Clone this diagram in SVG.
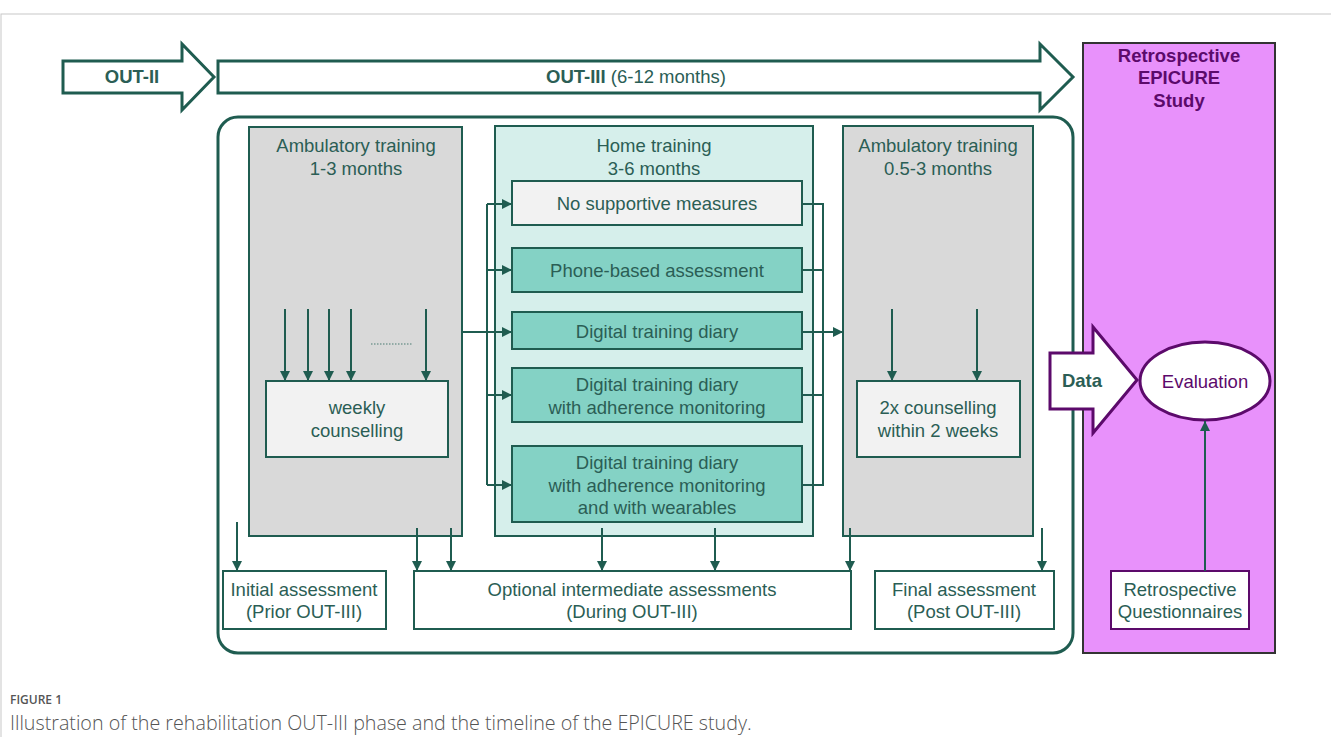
<svg xmlns="http://www.w3.org/2000/svg" width="1331" height="737" viewBox="0 0 1331 737">
<defs>
<marker id="ah" viewBox="0 0 10 10" refX="10" refY="5" markerWidth="10" markerHeight="10" markerUnits="userSpaceOnUse" orient="auto">
<path d="M0,0 L10,5 L0,10 z" fill="#1f5c50"/>
</marker>
<style>
.t{font-family:"Liberation Sans",Arial,sans-serif;font-size:18.5px;fill:#2b5e55;text-anchor:middle}
.b{font-weight:bold}
.p{fill:#5c0a6b}
.ln{stroke:#1f5c50;stroke-width:2;fill:none}
.ar{stroke:#1f5c50;stroke-width:2;fill:none;marker-end:url(#ah)}
.box{stroke:#1f5c50;stroke-width:2}
.cap{font-family:"Open Sans","Liberation Sans",sans-serif;fill:#555}
</style>
</defs>
<rect x="0" y="0" width="1331" height="737" fill="#fff"/>
<rect x="1" y="14" width="1400" height="800" fill="none" stroke="#c8c8c8" stroke-width="1"/>

<g id="out2">
<path d="M63,61 L182,61 L182,44 L214,77 L182,110 L182,93 L63,93 Z" fill="#fff" stroke="#1f5c50" stroke-width="3"/>
<text class="t b" x="132" y="83">OUT-II</text>
</g>
<g id="out3">
<path d="M218,61 L1040,61 L1040,44 L1073,77 L1040,110 L1040,93 L218,93 Z" fill="#fff" stroke="#1f5c50" stroke-width="3"/>
<text class="t" x="636" y="83"><tspan class="b">OUT-III</tspan> (6-12 months)</text>
</g>

<g id="epicure">
<rect x="1083" y="43" width="192" height="610" fill="#e891fb" stroke="#333" stroke-width="2"/>
<text class="t b p" x="1179" y="62">Retrospective</text>
<text class="t b p" x="1179" y="84">EPICURE</text>
<text class="t b p" x="1179" y="107">Study</text>
</g>

<g id="frame">
<rect x="218" y="117" width="855" height="536" rx="20" fill="none" stroke="#1f5c50" stroke-width="3"/>
</g>

<g id="amb1">
<rect x="249" y="127" width="213" height="409" fill="#d9d9d9" class="box"/>
<text class="t" x="356" y="152">Ambulatory training</text>
<text class="t" x="356" y="175">1-3 months</text>
</g>
<g id="weekly">
<rect x="266" y="381" width="182" height="76" fill="#f2f2f2" class="box"/>
<text class="t" x="357" y="414">weekly</text>
<text class="t" x="357" y="437">counselling</text>
</g>

<g id="home">
<rect x="495" y="126" width="318" height="410" fill="#d6efeb" class="box"/>
<text class="t" x="654" y="152">Home training</text>
<text class="t" x="654" y="175">3-6 months</text>
</g>
<g id="nosupport">
<rect x="512" y="181" width="290" height="44" fill="#f2f2f2" class="box"/>
<text class="t" x="657" y="210">No supportive measures</text>
</g>
<g id="phone">
<rect x="512" y="248" width="290" height="44" fill="#84d2c5" class="box"/>
<text class="t" x="657" y="277">Phone-based assessment</text>
</g>
<g id="diary">
<rect x="512" y="312" width="290" height="37" fill="#84d2c5" class="box"/>
<text class="t" x="657" y="338">Digital training diary</text>
</g>
<g id="diary2">
<rect x="512" y="368" width="290" height="54" fill="#84d2c5" class="box"/>
<text class="t" x="657" y="391">Digital training diary</text>
<text class="t" x="657" y="414">with adherence monitoring</text>
</g>
<g id="diary3">
<rect x="512" y="446" width="290" height="76" fill="#84d2c5" class="box"/>
<text class="t" x="657" y="469">Digital training diary</text>
<text class="t" x="657" y="492">with adherence monitoring</text>
<text class="t" x="657" y="514">and with wearables</text>
</g>

<g id="amb2">
<rect x="843" y="126" width="190" height="410" fill="#d9d9d9" class="box"/>
<text class="t" x="938" y="152">Ambulatory training</text>
<text class="t" x="938" y="175">0.5-3 months</text>
</g>
<g id="counsel2">
<rect x="857" y="381" width="163" height="76" fill="#f2f2f2" class="box"/>
<text class="t" x="938" y="414">2x counselling</text>
<text class="t" x="938" y="437">within 2 weeks</text>
</g>

<g id="initial">
<rect x="223" y="571" width="163" height="58" fill="#fff" class="box"/>
<text class="t" x="304" y="596">Initial assessment</text>
<text class="t" x="304" y="618">(Prior OUT-III)</text>
</g>
<g id="intermediate">
<rect x="414" y="571" width="437" height="58" fill="#fff" class="box"/>
<text class="t" x="632" y="596">Optional intermediate assessments</text>
<text class="t" x="632" y="618">(During OUT-III)</text>
</g>
<g id="final">
<rect x="875" y="571" width="179" height="58" fill="#fff" class="box"/>
<text class="t" x="964" y="596">Final assessment</text>
<text class="t" x="964" y="618">(Post OUT-III)</text>
</g>

<g id="data">
<path d="M1050,353 L1093,353 L1093,327 L1137,380 L1093,433 L1093,409 L1050,409 Z" fill="#fff" stroke="#5c0a6b" stroke-width="3"/>
<text class="t b" x="1082" y="387">Data</text>
</g>
<g id="evaluation">
<ellipse cx="1205" cy="381" rx="65" ry="39" fill="#fff" stroke="#5c0a6b" stroke-width="3"/>
<text class="t p" x="1205" y="388">Evaluation</text>
</g>
<g id="questionnaires">
<rect x="1111" y="571" width="138" height="58" fill="#fff" stroke="#5c0a6b" stroke-width="2"/>
<text class="t" x="1180" y="596">Retrospective</text>
<text class="t" x="1180" y="618">Questionnaires</text>
</g>

<g id="connectors">
<line class="ar" x1="285" y1="309" x2="285" y2="381"/>
<line class="ar" x1="308" y1="309" x2="308" y2="381"/>
<line class="ar" x1="329" y1="309" x2="329" y2="381"/>
<line class="ar" x1="351" y1="309" x2="351" y2="381"/>
<line class="ar" x1="426" y1="309" x2="426" y2="381"/>
<line x1="371" y1="344" x2="413" y2="344" stroke="#7a9a94" stroke-width="1.5" stroke-dasharray="1.5,1.5"/>
<line class="ar" x1="892" y1="309" x2="892" y2="381"/>
<line class="ar" x1="977" y1="309" x2="977" y2="381"/>

<line class="ln" x1="462" y1="332" x2="487" y2="332"/>
<line class="ln" x1="487" y1="204" x2="487" y2="485"/>
<line class="ar" x1="487" y1="204" x2="512" y2="204"/>
<line class="ar" x1="487" y1="270" x2="512" y2="270"/>
<line class="ar" x1="487" y1="332" x2="512" y2="332"/>
<line class="ar" x1="487" y1="395" x2="512" y2="395"/>
<line class="ar" x1="487" y1="485" x2="512" y2="485"/>

<polyline class="ln" points="802,204 823,204 823,485 802,485"/>
<line class="ln" x1="802" y1="270" x2="823" y2="270"/>
<line class="ln" x1="802" y1="395" x2="823" y2="395"/>
<line class="ar" x1="802" y1="332" x2="843" y2="332"/>

<line class="ar" x1="237" y1="522" x2="237" y2="571"/>
<line class="ar" x1="417" y1="528" x2="417" y2="571"/>
<line class="ar" x1="451" y1="528" x2="451" y2="571"/>
<line class="ar" x1="602" y1="528" x2="602" y2="571"/>
<line class="ar" x1="715" y1="528" x2="715" y2="571"/>
<line class="ar" x1="850" y1="528" x2="850" y2="571"/>
<line class="ar" x1="1042" y1="528" x2="1042" y2="571"/>
<line class="ar" x1="1205" y1="571" x2="1205" y2="421"/>
</g>

<text class="cap" x="10" y="704" font-size="12" font-weight="600">FIGURE 1</text>
<text class="cap" x="10" y="730" font-size="19.7" font-weight="300">Illustration of the rehabilitation OUT-III phase and the timeline of the EPICURE study.</text>
</svg>
